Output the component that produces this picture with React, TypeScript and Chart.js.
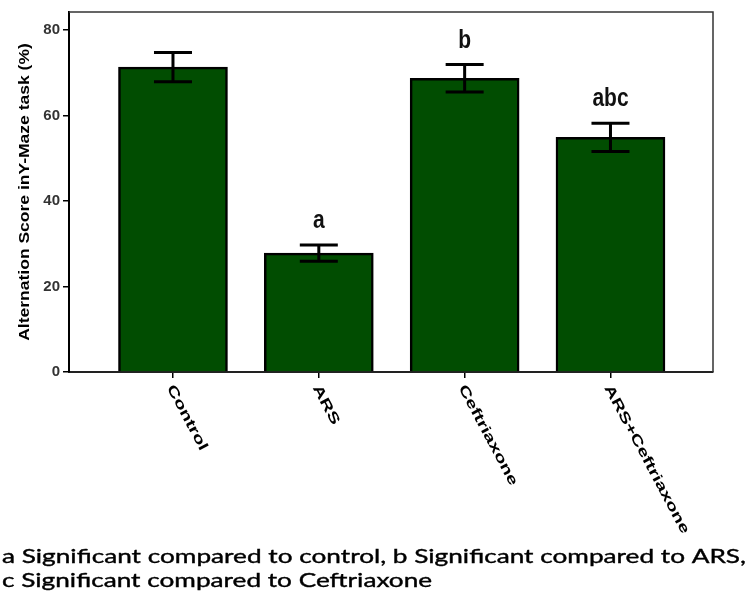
import React, { useEffect, useRef } from 'react';
import { Chart, registerables } from 'chart.js';

Chart.register(...registerables);

const categories = ['Control', 'ARS', 'Ceftriaxone', 'ARS+Ceftriaxone'];
const means = [71.3, 27.8, 68.7, 54.9];
const sems = [3.4, 1.9, 3.2, 3.3];
const sigLetters = ['', 'a', 'b', 'abc'];
const yTicks = [0, 20, 40, 60, 80];
const yTitle = 'Alternation Score inY-Maze task (%)';
const footLines = [
  'a Significant compared to control, b Significant compared to ARS,',
  'c Significant compared to Ceftriaxone',
];

const overlay = {
  id: 'overlay',
  afterDatasetsDraw(chart: any) {
    const { ctx, chartArea, scales } = chart;
    const xs = scales.x;
    const ys = scales.y;
    const { left, right, top, bottom } = chartArea;
    ctx.save();

    // frame top & right
    ctx.strokeStyle = '#333';
    ctx.lineWidth = 1.5;
    ctx.beginPath();
    ctx.moveTo(left, top);
    ctx.lineTo(right, top);
    ctx.lineTo(right, bottom);
    ctx.stroke();

    // error bars
    ctx.strokeStyle = '#000';
    ctx.lineWidth = 3;
    means.forEach((m, i) => {
      const x = xs.getPixelForValue(i);
      const yHi = ys.getPixelForValue(m + sems[i]);
      const yLo = ys.getPixelForValue(m - sems[i]);
      ctx.beginPath();
      ctx.moveTo(x, yHi);
      ctx.lineTo(x, yLo);
      ctx.moveTo(x - 19, yHi);
      ctx.lineTo(x + 19, yHi);
      ctx.moveTo(x - 19, yLo);
      ctx.lineTo(x + 19, yLo);
      ctx.stroke();

      // significance letters
      if (sigLetters[i]) {
        ctx.save();
        ctx.translate(x, yHi - 17);
        ctx.scale(1, 1.2);
        ctx.fillStyle = '#111';
        ctx.font = 'bold 21px "Liberation Sans", Arial, sans-serif';
        ctx.textAlign = 'center';
        ctx.textBaseline = 'alphabetic';
        ctx.fillText(sigLetters[i], 0, 0);
        ctx.restore();
      }

      // category labels (rotated)
      ctx.save();
      ctx.translate(x - 3, bottom + 14);
      ctx.rotate((62 * Math.PI) / 180);
      ctx.scale(1.45, 1);
      ctx.fillStyle = '#000';
      ctx.font = 'bold 14px "Liberation Sans", Arial, sans-serif';
      ctx.textAlign = 'left';
      ctx.textBaseline = 'middle';
      ctx.fillText(categories[i], 0, 0);
      ctx.restore();
    });

    // y title
    ctx.save();
    ctx.translate(25, (top + bottom) / 2);
    ctx.rotate(-Math.PI / 2);
    ctx.scale(1.25, 1);
    ctx.fillStyle = '#000';
    ctx.font = 'bold 14px "Liberation Sans", Arial, sans-serif';
    ctx.textAlign = 'center';
    ctx.textBaseline = 'middle';
    ctx.fillText(yTitle, 0, 0);
    ctx.restore();

    // footnote
    ctx.save();
    ctx.fillStyle = '#000';
    ctx.strokeStyle = '#000';
    ctx.lineWidth = 0.4;
    ctx.font = '20px Lato, "Open Sans", sans-serif';
    ctx.textAlign = 'left';
    ctx.textBaseline = 'alphabetic';
    const w = ctx.measureText(footLines[0]).width;
    const k = 744 / w;
    footLines.forEach((line, j) => {
      ctx.save();
      ctx.translate(2, 563 + j * 24);
      ctx.scale(k, 1);
      ctx.fillText(line, 0, 0);
      ctx.strokeText(line, 0, 0);
      ctx.restore();
    });
    ctx.restore();

    ctx.restore();
  },
};

export default function App() {
  const ref = useRef<HTMLCanvasElement>(null);
  useEffect(() => {
    const chart = new Chart(ref.current as HTMLCanvasElement, {
      type: 'bar',
      data: {
        datasets: [
          {
            data: means.map((m, i) => ({ x: i, y: m })),
            backgroundColor: '#014d01',
            borderColor: '#000',
            borderWidth: 2.5,
            barThickness: 109,
          },
        ],
      },
      options: {
        responsive: false,
        animation: false,
        layout: { padding: { top: 12, right: 35, left: 0, bottom: 0 } },
        plugins: { legend: { display: false }, tooltip: { enabled: false } },
        scales: {
          x: {
            type: 'linear',
            offset: false,
            min: -0.713,
            max: 3.703,
            afterBuildTicks: (s: any) => {
              s.ticks = categories.map((_, i) => ({ value: i }));
            },
            afterFit: (s: any) => {
              s.height = 243;
            },
            ticks: { display: false },
            grid: { offset: false, drawOnChartArea: false, drawTicks: true, tickLength: 6, color: '#000', lineWidth: 1.5 },
            border: { color: '#222', width: 2 },
          },
          y: {
            min: 0,
            max: 84.2,
            afterBuildTicks: (s: any) => {
              s.ticks = yTicks.map((v) => ({ value: v }));
            },
            afterFit: (s: any) => {
              s.width = 69;
            },
            ticks: {
              font: { family: '"Liberation Sans", Arial, sans-serif', weight: 'bold', size: 15 },
              color: '#333',
              padding: 3,
            },
            grid: { drawOnChartArea: false, drawTicks: true, tickLength: 6, color: '#000', lineWidth: 1.5 },
            border: { color: '#000', width: 2 },
          },
        },
      } as any,
      plugins: [overlay],
    });
    return () => chart.destroy();
  }, []);
  return (
    <div style={{ position: 'absolute', left: 0, top: 0, width: 748, height: 615, background: '#fff' }}>
      <canvas ref={ref} width={748} height={615} style={{ display: 'block', width: 748, height: 615 }} />
    </div>
  );
}
